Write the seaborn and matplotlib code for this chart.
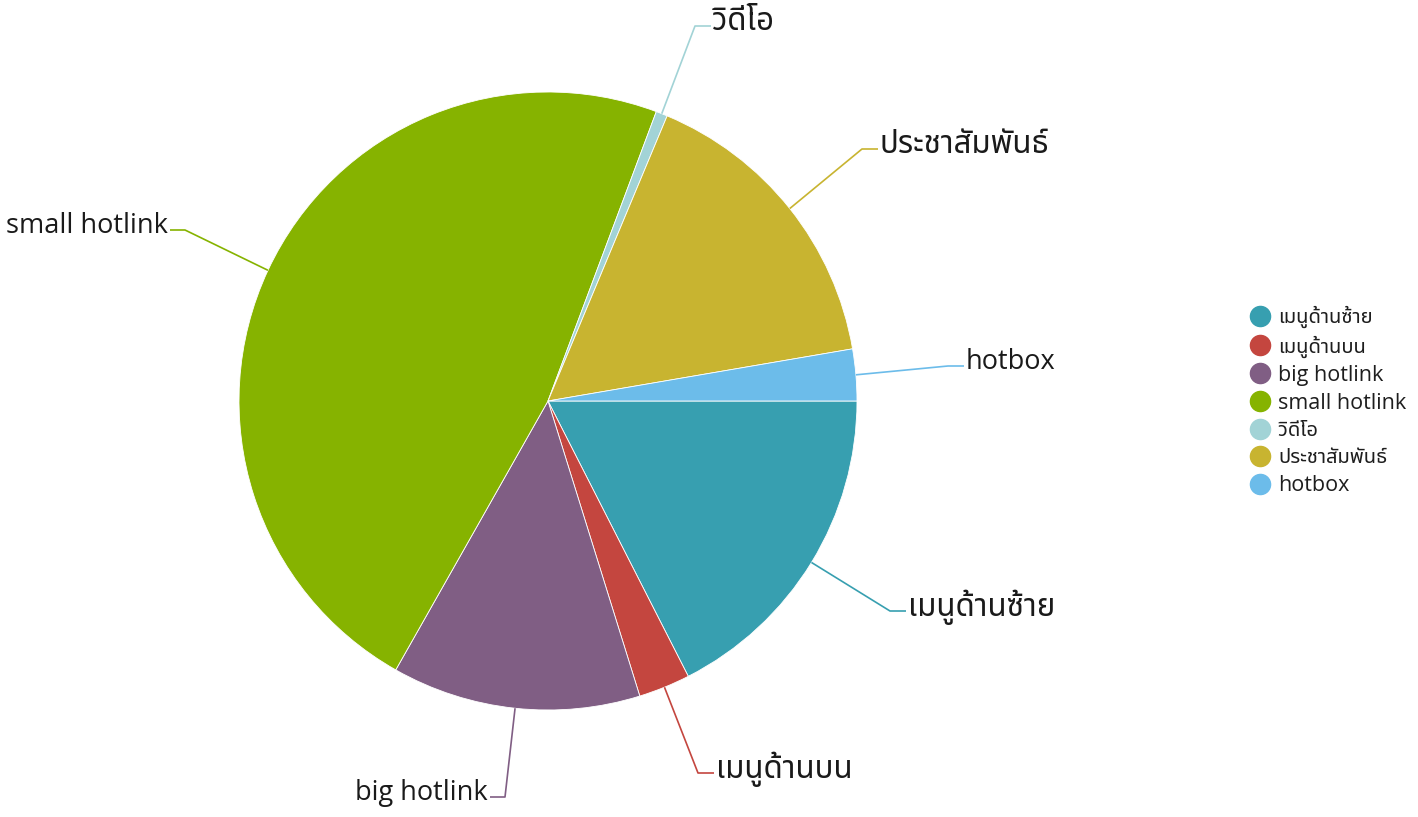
import numpy as np
import matplotlib
matplotlib.use("Agg")
import matplotlib.pyplot as plt
from matplotlib.lines import Line2D
import seaborn as sb

# slices, clockwise from 3 o'clock
names = ["เมนูด้านซ้าย", "เมนูด้านบน", "big hotlink", "small hotlink", "วิดีโอ", "ประชาสัมพันธ์", "hotbox"]
shares = [17.5, 2.7, 13.0, 47.5, 0.6, 16.0, 2.7]
colors = ["#379FB0", "#C4463F", "#805E84", "#86B300", "#A2D3D6", "#C8B430", "#6CBCEA"]

# where each outside label sits (pixels from top-left) and which side of the kink
label_pos = [(908, 607), (716, 769), (488, 793), (168, 226), (713, 22), (880, 145), (966, 362)]
label_side = ["left", "left", "right", "right", "left", "left", "left"]

W, H = 1418, 817
sb.set_style("white")
plt.rcParams['font.family'] = ['Open Sans', 'Noto Sans Thai', 'DejaVu Sans']


def is_thai(s):
    return any('\u0e00' <= ch <= '\u0e7f' for ch in s)


fig = plt.figure(figsize=(W / 100, H / 100), dpi=100)
ax = fig.add_axes([0, 0, 1, 1])

cx, cy, r = 548, H - 401, 309
wedges, _ = ax.pie(shares, colors=colors, startangle=0, counterclock=False,
                   center=(cx, cy), radius=r,
                   wedgeprops=dict(linewidth=0.6, edgecolor="white"))

for w, name, col, (lx, ly), side in zip(wedges, names, colors, label_pos, label_side):
    mid = np.deg2rad((w.theta1 + w.theta2) / 2)
    ex, ey = cx + r * np.cos(mid), cy + r * np.sin(mid)
    ly_up = H - ly
    kx = lx - 18 if side == "left" else lx + 17
    hx = lx - 2 if side == "left" else lx + 2
    ky = ly_up - 4
    ax.plot([ex, kx, hx], [ey, ky, ky], color=col, lw=1.2, solid_capstyle="butt")
    ax.text(lx, ly_up, name, ha=side, va="center",
            fontsize=22.5 if is_thai(name) else 19.5, color="#1a1a1a")

ax.set_xlim(0, W)
ax.set_ylim(0, H)
ax.set_aspect("equal")
ax.axis("off")

handles = [Line2D([], [], marker="o", linestyle="", markersize=14.5,
                  markerfacecolor=c, markeredgecolor=c) for c in colors]
leg = fig.legend(handles, names, loc="upper left", bbox_to_anchor=(1249 / W, 1 - 306 / H),
                 frameon=False, fontsize=15.5, handletextpad=0.35, labelspacing=0.33,
                 handlelength=1.0, borderaxespad=0, borderpad=0)
for t in leg.get_texts():
    t.set_color("#1e1e1e")
    if is_thai(t.get_text()):
        t.set_fontsize(14.5)

fig.savefig("out.png", dpi=100)
